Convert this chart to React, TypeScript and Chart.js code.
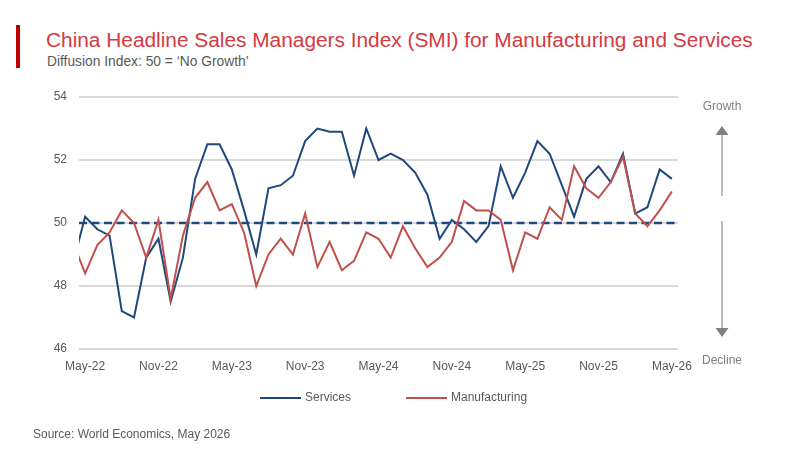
import React, { useEffect, useRef } from "react";
import { Chart, registerables } from "chart.js";

Chart.register(...registerables);

// Monthly readings; the first month sits just outside the visible range
const months = [
  "Apr-22", "May-22", "Jun-22", "Jul-22", "Aug-22", "Sep-22", "Oct-22", "Nov-22", "Dec-22",
  "Jan-23", "Feb-23", "Mar-23", "Apr-23", "May-23", "Jun-23", "Jul-23", "Aug-23", "Sep-23",
  "Oct-23", "Nov-23", "Dec-23", "Jan-24", "Feb-24", "Mar-24", "Apr-24", "May-24", "Jun-24",
  "Jul-24", "Aug-24", "Sep-24", "Oct-24", "Nov-24", "Dec-24", "Jan-25", "Feb-25", "Mar-25",
  "Apr-25", "May-25", "Jun-25", "Jul-25", "Aug-25", "Sep-25", "Oct-25", "Nov-25", "Dec-25",
  "Jan-26", "Feb-26", "Mar-26", "Apr-26", "May-26",
];

const tickLabels = [
  "May-22", "Nov-22", "May-23", "Nov-23", "May-24", "Nov-24", "May-25", "Nov-25", "May-26",
];

const services = [
  48.7, 50.2, 49.8, 49.6, 47.2, 47.0, 48.9, 49.5, 47.5,
  48.9, 51.4, 52.5, 52.5, 51.7, 50.4, 49.0, 51.1, 51.2,
  51.5, 52.6, 53.0, 52.9, 52.9, 51.5, 53.0, 52.0, 52.2,
  52.0, 51.6, 50.9, 49.5, 50.1, 49.8, 49.4, 49.9, 51.8,
  50.8, 51.6, 52.6, 52.2, 51.2, 50.2, 51.4, 51.8, 51.3,
  52.2, 50.3, 50.5, 51.7, 51.4,
];

const manufacturing = [
  49.4, 48.4, 49.3, 49.7, 50.4, 50.0, 48.9, 50.1, 47.6,
  49.6, 50.8, 51.3, 50.4, 50.6, 49.7, 48.0, 49.0, 49.5,
  49.0, 50.3, 48.6, 49.4, 48.5, 48.8, 49.7, 49.5, 48.9,
  49.9, 49.2, 48.6, 48.9, 49.4, 50.7, 50.4, 50.4, 50.1,
  48.5, 49.7, 49.5, 50.5, 50.1, 51.8, 51.1, 50.8, 51.3,
  52.1, 50.3, 49.9, 50.4, 51.0,
];

const NO_GROWTH = 50;
const Y_MIN = 46;
const Y_MAX = 54;

const FONT = "'Liberation Sans', Arial, Helvetica, sans-serif";
const BLUE = "#1F497D";
const RED = "#C0504D";
const GREY_TEXT = "#595959";

const seriesList = [
  { label: "Services", values: services, color: BLUE },
  { label: "Manufacturing", values: manufacturing, color: RED },
];

// Dashed "no growth" reference line, drawn beneath the series
const noGrowthLine = {
  id: "noGrowthLine",
  beforeDatasetsDraw(chart: any) {
    const { ctx, chartArea, scales } = chart;
    const y = scales.y.getPixelForValue(NO_GROWTH);
    ctx.save();
    ctx.strokeStyle = BLUE;
    ctx.lineWidth = 2.5;
    ctx.setLineDash([8, 4.5]);
    ctx.beginPath();
    ctx.moveTo(chartArea.left, y);
    ctx.lineTo(chartArea.right, y);
    ctx.stroke();
    ctx.restore();
  },
};

// Growth / Decline arrows to the right of the plot, plus the series key below it
const sideNotes = {
  id: "sideNotes",
  afterDraw(chart: any) {
    const { ctx, chartArea } = chart;
    const ax = chartArea.right + 44;
    ctx.save();
    ctx.font = `12px ${FONT}`;
    ctx.fillStyle = "#7F7F7F";
    ctx.textAlign = "center";
    ctx.textBaseline = "middle";
    ctx.fillText("Growth", ax, chartArea.top + 10);
    ctx.fillText("Decline", ax, chartArea.bottom + 12);

    ctx.strokeStyle = "#A6A6A6";
    ctx.lineWidth = 1.5;
    ctx.beginPath();
    ctx.moveTo(ax, chartArea.top + 99);
    ctx.lineTo(ax, chartArea.top + 37);
    ctx.moveTo(ax, chartArea.top + 124);
    ctx.lineTo(ax, chartArea.bottom - 21);
    ctx.stroke();

    ctx.fillStyle = "#808080";
    ctx.beginPath();
    ctx.moveTo(ax, chartArea.top + 29);
    ctx.lineTo(ax - 6.5, chartArea.top + 38);
    ctx.lineTo(ax + 6.5, chartArea.top + 38);
    ctx.closePath();
    ctx.fill();
    ctx.beginPath();
    ctx.moveTo(ax, chartArea.bottom - 12);
    ctx.lineTo(ax - 6.5, chartArea.bottom - 21);
    ctx.lineTo(ax + 6.5, chartArea.bottom - 21);
    ctx.closePath();
    ctx.fill();

    // series key
    const ky = chartArea.bottom + 49;
    let kx = 260;
    ctx.textAlign = "left";
    ctx.fillStyle = GREY_TEXT;
    seriesList.forEach((s) => {
      ctx.strokeStyle = s.color;
      ctx.lineWidth = 2;
      ctx.beginPath();
      ctx.moveTo(kx, ky);
      ctx.lineTo(kx + 41, ky);
      ctx.stroke();
      ctx.fillText(s.label, kx + 45, ky);
      kx += 45 + ctx.measureText(s.label).width + 55;
    });
    ctx.restore();
  },
};

export default function App() {
  const canvasRef = useRef<HTMLCanvasElement | null>(null);

  useEffect(() => {
    const canvas = canvasRef.current;
    if (!canvas) return;
    const firstTick = months.indexOf(tickLabels[0]);
    const lastTick = months.indexOf(tickLabels[tickLabels.length - 1]);

    const chart = new Chart(canvas, {
      type: "line",
      data: {
        datasets: seriesList.map((s, i) => ({
          label: s.label,
          data: s.values.map((v, idx) => ({ x: idx, y: v })),
          borderColor: s.color,
          backgroundColor: s.color,
          borderWidth: 2,
          pointRadius: 0,
          tension: 0,
          clip: 0,
          order: seriesList.length - i,
        })),
      },
      options: {
        responsive: false,
        animation: false,
        events: [],
        layout: { padding: { top: 97, right: 122, bottom: 73, left: 0 } },
        plugins: {
          legend: { display: false },
          tooltip: { enabled: false },
          title: { display: false },
        },
        scales: {
          x: {
            type: "linear",
            min: firstTick - 0.5,
            max: lastTick + 0.5,
            afterBuildTicks: (scale: any) => {
              scale.ticks = tickLabels.map((l) => ({ value: months.indexOf(l) }));
            },
            afterFit: (scale: any) => {
              scale.height = 30;
            },
            ticks: {
              autoSkip: false,
              maxRotation: 0,
              padding: 10,
              color: GREY_TEXT,
              font: { family: FONT, size: 12 },
              callback: (v: any) => months[Number(v)] ?? "",
            },
            grid: { display: false, drawTicks: false },
            border: { display: false },
          },
          y: {
            min: Y_MIN,
            max: Y_MAX,
            afterFit: (scale: any) => {
              scale.width = 79;
            },
            ticks: {
              stepSize: 2,
              padding: 12,
              color: GREY_TEXT,
              font: { family: FONT, size: 12 },
            },
            grid: { color: "#D9D9D9", lineWidth: 2, drawTicks: false },
            border: { display: false },
          },
        },
      },
      plugins: [noGrowthLine, sideNotes],
    });
    return () => chart.destroy();
  }, []);

  return (
    <div
      style={{
        position: "absolute",
        left: 0,
        top: 0,
        width: 800,
        height: 452,
        background: "#FFFFFF",
        fontFamily: FONT,
        overflow: "hidden",
      }}
    >
      <div
        style={{
          position: "absolute",
          left: 16,
          top: 25,
          width: 4,
          height: 43,
          background: "#C00000",
        }}
      />
      <div
        style={{
          position: "absolute",
          left: 46,
          top: 27,
          fontSize: 20.85,
          lineHeight: "26px",
          color: "#D43A42",
          whiteSpace: "nowrap",
        }}
      >
        China Headline Sales Managers Index (SMI) for Manufacturing and Services
      </div>
      <div
        style={{
          position: "absolute",
          left: 47,
          top: 54,
          fontSize: 13.8,
          lineHeight: "16px",
          color: GREY_TEXT,
          whiteSpace: "nowrap",
        }}
      >
        Diffusion Index: 50 = ‘No Growth’
      </div>
      <canvas
        ref={canvasRef}
        width={800}
        height={452}
        style={{ position: "absolute", left: 0, top: 0 }}
      />
      <div
        style={{
          position: "absolute",
          left: 33,
          top: 426,
          fontSize: 12,
          lineHeight: "16px",
          color: GREY_TEXT,
          whiteSpace: "nowrap",
        }}
      >
        Source: World Economics, May 2026
      </div>
    </div>
  );
}
